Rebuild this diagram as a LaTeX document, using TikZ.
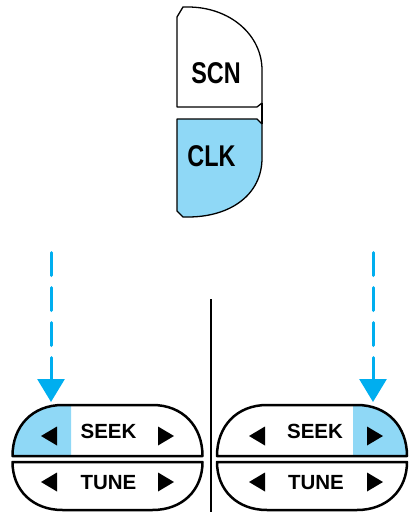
\documentclass[tikz,border=0pt]{standalone}
\usepackage{fontspec}
\setmainfont{Liberation Sans}
\newfontfamily\narrowfont[FakeStretch=0.78]{Liberation Sans}
\usetikzlibrary{arrows.meta}
\definecolor{lblue}{HTML}{8FD8F6}
\definecolor{cyanarr}{HTML}{00AEEF}
\tikzset{
  btnline/.style={line width=1.3pt, line join=round},
  capline/.style={line width=2.5pt, line join=round},
  bigtxt/.style={font=\narrowfont\bfseries\fontsize{30}{30}\selectfont, inner sep=0pt},
  captxt/.style={font=\bfseries\fontsize{20.5}{20.5}\selectfont, inner sep=0pt},
  arr/.style={cyanarr, line width=3pt, dash pattern=on 23pt off 12pt, line cap=round,
              -{Triangle[width=27pt,length=23pt]}},
  tri/.style={fill=black}
}
\newcommand{\seekshape}[1]{% #1 = left x
  (#1,456) .. controls (#1,426) and (#1+20,405) .. (#1+50,405) -- (#1+140,405)
  .. controls (#1+170,405) and (#1+190,426) .. (#1+190,456) -- cycle}
\newcommand{\tuneshape}[1]{%
  (#1,462) -- (#1+190,462) .. controls (#1+190,490) and (#1+170,510) .. (#1+140,510)
  -- (#1+50,510) .. controls (#1+20,510) and (#1,490) .. (#1,462) -- cycle}
\newcommand{\ltri}[2]{\fill (#1,#2) -- (#1+16,#2-9.5) -- (#1+16,#2+9.5) -- cycle;}
\newcommand{\rtri}[2]{\fill (#1+16,#2) -- (#1,#2-9.5) -- (#1,#2+9.5) -- cycle;}
\begin{document}
\begin{tikzpicture}[x=1pt,y=-1pt]
\useasboundingbox (0,0) rectangle (408,512);
% top button
\filldraw[btnline, fill=white] (177,17) -- (183,7) -- (188,7) .. controls (230,7) and (262,35) .. (262,70)
  -- (262,103) -- (257,107) -- (177,107) -- cycle;
\draw[btnline] (262,103) -- (262,124);
\filldraw[btnline, fill=lblue] (177,119) -- (257,119) -- (262,124) -- (262,158)
  .. controls (262,195) and (230,217) .. (188,217) -- (183,217) -- (177,211) -- cycle;
\node[bigtxt] (scn) at (216,73.5) {SCN};
\node[bigtxt] (clk) at (211.5,156.5) {CLK};
% divider
\draw[line width=2pt] (210.5,299) -- (210.5,512);
% left capsule
\begin{scope}
  \clip (0,380) rectangle (71,460);
  \fill[lblue] \seekshape{12.5};
\end{scope}
\draw[capline] \seekshape{12.5};
\draw[capline] \tuneshape{12.5};
% right capsule
\begin{scope}
  \clip (353,380) rectangle (420,460);
  \fill[lblue] \seekshape{217};
\end{scope}
\draw[capline] \seekshape{217};
\draw[capline] \tuneshape{217};
% texts
\node[captxt] (seekL) at (108.5,431) {SEEK};
\node[captxt] (tuneL) at (108.5,483) {TUNE};
\node[captxt] (seekR) at (315,431) {SEEK};
\node[captxt] (tuneR) at (316,483) {TUNE};
% triangles
\ltri{41}{436} \rtri{158}{436}
\ltri{41}{482} \rtri{158}{482}
\ltri{249}{436} \rtri{367}{436}
\ltri{249}{482} \rtri{367}{482}
% arrows
\coordinate (a1s) at (51,252.5);
\coordinate (a1e) at (51,402);
\coordinate (a2s) at (373,252.5);
\coordinate (a2e) at (373,402);
\draw[arr] (a1s) -- (a1e);
\draw[arr] (a2s) -- (a2e);
\end{tikzpicture}
\end{document}
